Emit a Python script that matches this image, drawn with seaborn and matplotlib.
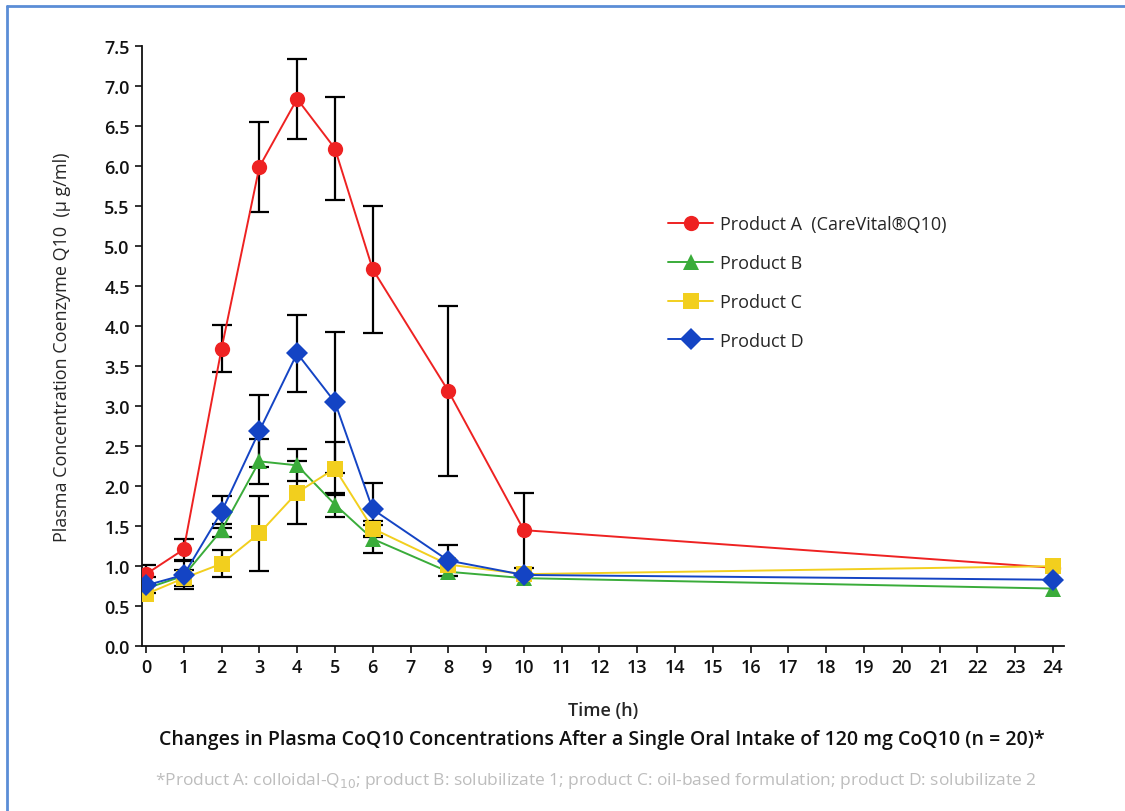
import numpy as np
import pandas as pd
import matplotlib
matplotlib.use('Agg')
import matplotlib.pyplot as plt
import seaborn as sns

# Werte
time_h = [0, 1, 2, 3, 4, 5, 6, 8, 10, 24]
products = ['Product A  (CareVital®Q10)', 'Product B', 'Product C', 'Product D']

conc_a = [0.90, 1.21, 3.72, 5.99, 6.84, 6.22, 4.71, 3.19, 1.45, 0.98]
conc_b = [0.72, 0.88, 1.45, 2.31, 2.26, 1.77, 1.34, 0.93, 0.85, 0.72]
conc_c = [0.65, 0.85, 1.03, 1.41, 1.92, 2.22, 1.47, 1.02, 0.90, 1.00]
conc_d = [0.76, 0.89, 1.68, 2.69, 3.66, 3.05, 1.71, 1.07, 0.89, 0.83]

err_a = [0.12, 0.13, 0.29, 0.56, 0.50, 0.64, 0.79, 1.06, 0.47, np.nan]
err_b = [np.nan, np.nan, 0.08, 0.28, 0.20, 0.15, 0.18, np.nan, np.nan, np.nan]
err_c = [np.nan, 0.10, 0.17, 0.47, 0.39, 0.33, 0.10, np.nan, np.nan, np.nan]
err_d = [0.10, 0.18, 0.20, 0.45, 0.48, 0.88, 0.33, 0.19, np.nan, np.nan]

y_ticks = [0.0, 0.5, 1.0, 1.5, 2.0, 2.5, 3.0, 3.5, 4.0, 4.5, 5.0, 5.5, 6.0, 6.5, 7.0, 7.5]
x_ticks = list(range(0, 25))

conc = [conc_a, conc_b, conc_c, conc_d]
errs = [err_a, err_b, err_c, err_d]

df = pd.DataFrame({
    'Time': np.tile(time_h, 4),
    'Conc': np.concatenate(conc),
    'Err': np.concatenate(errs),
    'Product': np.repeat(products, len(time_h)),
})

sns.set_style('white')
plt.rcParams['font.family'] = ['Open Sans', 'DejaVu Sans']

colors = {products[0]: '#ee2222', products[1]: '#3aac3a',
          products[2]: '#f2cf1e', products[3]: '#1444c4'}
markers = {products[0]: 'o', products[1]: '^', products[2]: 's', products[3]: 'D'}

fig = plt.figure(figsize=(11.25, 8.12), dpi=100)
ax = fig.add_axes([0.1264, 0.203, 0.8196, 0.739])

# Fehlerbalken zuerst, damit die Marker darüber liegen
for p in products:
    sub = df[df['Product'] == p]
    ax.errorbar(sub['Time'], sub['Conc'], yerr=sub['Err'], fmt='none',
                ecolor='black', elinewidth=1.6, capsize=7, capthick=1.6, zorder=2)

sns.lineplot(data=df, x='Time', y='Conc', hue='Product', style='Product',
             palette=colors, markers=markers, dashes=False, ax=ax,
             linewidth=1.4, markersize=11, markeredgewidth=0, zorder=3)

ax.set_xlim(-0.1, 24.3)
ax.set_ylim(0, 7.5)
ax.set_xticks(x_ticks)
ax.set_yticks(y_ticks)
ax.set_yticklabels([f'{v:.1f}' for v in y_ticks])
ax.tick_params(axis='both', direction='out', length=5, width=1.2, labelsize=13,
               bottom=True, left=True, colors='#111111')
ax.tick_params(axis='y', pad=4)
for lab in ax.get_xticklabels() + ax.get_yticklabels():
    lab.set_fontweight('semibold')
sns.despine(ax=ax)
ax.spines['left'].set_linewidth(1.3)
ax.spines['bottom'].set_linewidth(1.3)
ax.spines['left'].set_color('#111111')
ax.spines['bottom'].set_color('#111111')

ax.set_xlabel('Time (h)', fontsize=13, fontweight='semibold', labelpad=18)
ax.set_ylabel('Plasma Concentration Coenzyme Q10  (µ g/ml)', fontsize=13, labelpad=24)

leg = ax.legend(loc='upper left', bbox_to_anchor=(0.553, 0.745), frameon=False,
                fontsize=13, handlelength=2.5, labelspacing=1.15, handletextpad=0.35)
for h in leg.legend_handles:
    h.set_markersize(11)

fig.text(0.535, 0.083, 'Changes in Plasma CoQ10 Concentrations After a Single Oral Intake of 120 mg CoQ10 (n = 20)*',
         ha='center', fontsize=14, fontweight='semibold', color='#111111')
fig.text(0.53, 0.033, '*Product A: colloidal-Q$_{10}$; product B: solubilizate 1; product C: oil-based formulation; product D: solubilizate 2',
         ha='center', fontsize=12.5, color='#bdbdbd')

# dünner blauer Rahmen oben und links
fig.add_artist(plt.Line2D([0.006, 1.0], [0.991, 0.991], color='#5b8dd6', linewidth=2))
fig.add_artist(plt.Line2D([0.006, 0.006], [0.0, 0.991], color='#5b8dd6', linewidth=2))

fig.savefig('out.png', dpi=100)
